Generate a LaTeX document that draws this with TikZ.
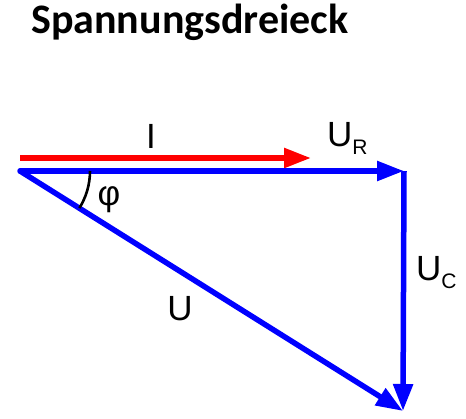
\documentclass[tikz,border=0pt]{standalone}
\usepackage{fontspec}
\setmainfont{Liberation Sans}
\newfontfamily\titlefont{Carlito}
\usetikzlibrary{arrows.meta}

\newcommand{\lowidx}[1]{\raisebox{-8pt}{\fontsize{21}{24}\selectfont #1}}

\begin{document}
\begin{tikzpicture}[x=1pt,y=-1pt,
    vec/.style={line width=5.5pt, -{Triangle[length=27pt,width=19pt]}},
    lbl/.style={inner sep=0pt, font=\fontsize{35}{40}\selectfont}]
        \useasboundingbox (0,0) rectangle (466,418);
        % titel
        \node[inner sep=0pt, anchor=base west, font=\titlefont\bfseries\fontsize{42}{48}\selectfont]
            (titel) at (31,33) {Spannungsdreieck};
        % punkte
        \coordinate (O) at (20,171);
        \coordinate (R) at (404,171);
        \coordinate (C) at (403,411);
        \coordinate (Ia) at (20,158);
        \coordinate (Ib) at (311,158);
        % zeiger
        \draw[vec, red] (Ia) -- (Ib);
        \draw[vec, blue, line cap=round] (O) -- (R);
        \draw[vec, blue] (R) -- (C);
        \draw[vec, blue] (O) -- (C);
        \draw[line width=2.6pt] (O) ++(0:70) arc (0:32:70);
        % beschriftung
        \node[lbl, anchor=base] (lI) at (151,148) {I};
        \node[lbl, anchor=base west] (lUR) at (327,146) {U\lowidx{R}};
        \node[lbl, anchor=base west] (lUC) at (416,280) {U\lowidx{C}};
        \node[lbl, anchor=base] (lU) at (180,320) {U};
        \node[lbl] (lphi) at (109,200) {φ};
\end{tikzpicture}
\end{document}
